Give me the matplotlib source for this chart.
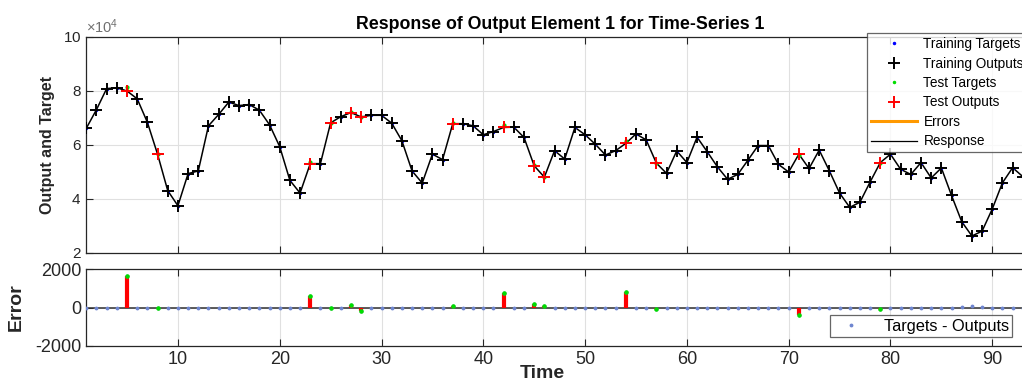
import matplotlib
matplotlib.use("Agg")
import matplotlib.pyplot as plt
from matplotlib.lines import Line2D
from matplotlib.ticker import ScalarFormatter, MultipleLocator

plt.rcParams["font.family"] = ["Liberation Sans", "DejaVu Sans"]
plt.rcParams["axes.unicode_minus"] = False
plt.rcParams["mathtext.fontset"] = "custom"
plt.rcParams["mathtext.rm"] = "Liberation Sans"

# network outputs for every time step
time = list(range(1, 94))
outputs = [66200, 73100, 80900, 81200, 80000, 77100, 68400, 56600, 43100, 37500,
           49400, 50400, 67100, 71300, 75900, 74600, 75000, 72900, 67500, 59400,
           46900, 42200, 53100, 53100, 68200, 70500, 72000, 70400, 71000, 71000,
           68100, 61600, 50400, 45900, 56600, 54600, 67900, 67900, 67100, 63800,
           65000, 66500, 66600, 62800, 52300, 48100, 57900, 54800, 66500, 63800,
           60300, 56300, 57900, 60600, 64100, 61900, 53300, 49500, 57800, 53500,
           62900, 57500, 51900, 47300, 49100, 54400, 59800, 59800, 52800, 50000,
           56600, 51300, 58100, 50400, 42200, 36900, 38800, 46300, 53500, 56600,
           51000, 49100, 53500, 47800, 51500, 41300, 31600, 26300, 28100, 36300,
           46000, 51600, 48300]

# test time steps and their errors (targets - outputs)
test_steps = [5, 8, 23, 25, 27, 28, 37, 42, 45, 46, 54, 57, 71, 79]
test_errors = [1650, -20, 600, -10, 120, -190, 70, 730, 170, 90, 830, -90, -370, -70]
# small training errors
train_err_steps = [87, 88, 89]
train_err_vals = [40, 60, 40]

errors = [0] * len(time)
for s, e in zip(test_steps, test_errors):
    errors[s - 1] = e
for s, e in zip(train_err_steps, train_err_vals):
    errors[s - 1] = e
targets = [o + e for o, e in zip(outputs, errors)]

train_steps = [t for t in time if t not in test_steps]
train_out = [outputs[t - 1] for t in train_steps]
train_tgt = [targets[t - 1] for t in train_steps]
test_out = [outputs[t - 1] for t in test_steps]
test_tgt = [targets[t - 1] for t in test_steps]

W, H = 1022, 381
fig = plt.figure(figsize=(W / 100, H / 100), dpi=100)
left = 86.3 / W
width = (1034 - 86.3) / W
ax1 = fig.add_axes([left, (H - 253) / H, width, 216 / H])
ax2 = fig.add_axes([left, (H - 346) / H, width, 77 / H])

spine_c = "#262626"
for ax in (ax1, ax2):
    ax.set_xlim(1, 94.1)
    ax.xaxis.set_major_locator(MultipleLocator(10))
    ax.grid(True, color="#e0e0e0", lw=0.8)
    ax.set_axisbelow(True)
    ax.tick_params(direction="in", top=True, right=True, length=5, width=0.8,
                   colors=spine_c, labelcolor=spine_c)
    for sp in ax.spines.values():
        sp.set_color(spine_c)
        sp.set_linewidth(0.9)

# top panel
ax1.plot(time, outputs, color="black", lw=1.1, zorder=2)
ax1.vlines(time, outputs, targets, color="#ff9900", lw=2, zorder=3)
ax1.plot(train_steps, train_tgt, ".", color="blue", ms=3, zorder=3)
ax1.plot(train_steps, train_out, "+", color="black", ms=9, mew=1.4, zorder=4)
ax1.plot(test_steps, test_tgt, ".", color="#00dd00", ms=4, zorder=3)
ax1.plot(test_steps, test_out, "+", color="red", ms=9, mew=1.4, zorder=5)
ax1.set_ylim(20000, 100000)
ax1.yaxis.set_major_locator(MultipleLocator(20000))
fmt = ScalarFormatter(useMathText=True)
fmt.set_powerlimits((4, 4))
ax1.yaxis.set_major_formatter(fmt)
ax1.yaxis.get_offset_text().set_fontsize(10.5)
ax1.yaxis.get_offset_text().set_color("#707070")
ax1.tick_params(labelbottom=False, labelsize=11)
ax1.set_ylabel("Output and Target", fontsize=11.5, fontweight="bold", color="#262626")
ax1.yaxis.set_label_coords(-0.033, 0.5)
ax1.set_title("Response of Output Element 1 for Time-Series 1", fontsize=12.8,
              fontweight="bold", pad=6)

handles = [
    Line2D([], [], ls="none", marker=".", color="blue", ms=3),
    Line2D([], [], ls="none", marker="+", color="black", ms=9, mew=1.4),
    Line2D([], [], ls="none", marker=".", color="#00dd00", ms=3),
    Line2D([], [], ls="none", marker="+", color="red", ms=9, mew=1.4),
    Line2D([], [], color="#ff9900", lw=2.2),
    Line2D([], [], color="black", lw=0.9),
]
labels = ["Training Targets", "Training Outputs", "Test Targets", "Test Outputs",
          "Errors", "Response"]
leg = fig.legend(handles, labels, loc="upper left", bbox_to_anchor=(867 / W, 1 - 33 / H),
                 fontsize=9.8, frameon=True, fancybox=False, edgecolor="#404040",
                 handlelength=3.4, handletextpad=0.45, labelspacing=0.4,
                 borderpad=0.3, borderaxespad=0)
leg.get_frame().set_linewidth(0.9)

# bottom panel
ax2.axhline(0, color="#303030", lw=1.1, zorder=2)
ax2.vlines(test_steps, 0, test_errors, color="red", lw=3, zorder=3)
ax2.plot(time, errors, ".", color="#6f86d0", ms=3.5, zorder=4, label="Targets - Outputs")
ax2.plot(test_steps, test_errors, ".", color="#00dd00", ms=4.5, zorder=5)
ax2.set_ylim(-2000, 2000)
ax2.set_yticks([-2000, 0, 2000])
ax2.tick_params(labelsize=13)
ax2.set_ylabel("Error", fontsize=14, fontweight="bold", color="#262626")
ax2.yaxis.set_label_coords(-0.065, 0.5)
ax2.set_xlabel("Time", fontsize=14, fontweight="bold", color="#262626")
ax2.xaxis.set_label_coords(0.481, -0.25)
leg2 = ax2.legend(loc="lower left", bbox_to_anchor=(830 / W, 1 - 337 / H),
                  bbox_transform=fig.transFigure, fontsize=11.8, frameon=True,
                  fancybox=False, edgecolor="#404040", handlelength=2.2,
                  handletextpad=0.9, borderpad=0.2, borderaxespad=0)
leg2.get_frame().set_linewidth(0.9)

fig.savefig("out.png", dpi=100)
